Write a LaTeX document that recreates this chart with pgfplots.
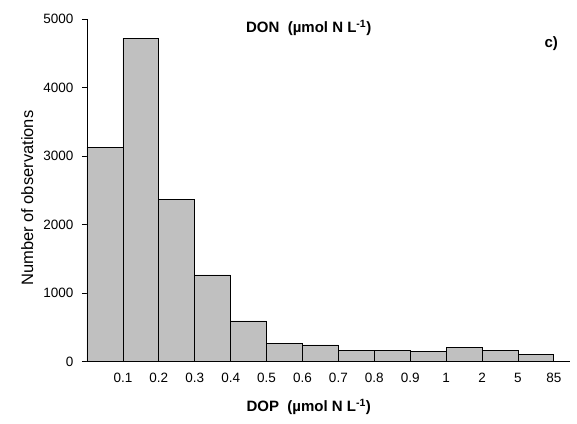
\documentclass[border=0pt]{standalone}
\usepackage{pgfplots}
\pgfplotsset{compat=1.18}
\usepackage{fontspec}
\setmainfont{Liberation Sans}
\definecolor{bargray}{HTML}{C0C0C0}
\begin{document}
\begin{tikzpicture}
\useasboundingbox (-87pt,-61.3pt) rectangle (490pt,361.7pt);
\begin{axis}[
  at={(0,0)}, anchor=south west,
  scale only axis,
  width=483pt, height=342.7pt,
  xmin=0, xmax=13.45,
  ymin=0, ymax=5000,
  axis x line*=bottom, axis y line*=left,
  axis line style={line width=0.7pt, black},
  ytick={0,1000,2000,3000,4000,5000},
  xtick={1,2,3,4,5,6,7,8,9,10,11,12,13},
  xticklabels={0.1,0.2,0.3,0.4,0.5,0.6,0.7,0.8,0.9,1,2,5,85},
  xtick style={draw=none},
  tick align=outside,
  major tick length=5pt,
  ytick style={line width=0.7pt, black},
  /pgf/number format/1000 sep={},
  /pgf/number format/assume math mode=true,
  tick label style={font=\fontsize{13.5}{15}\selectfont},
  xticklabel style={yshift=-3pt},
  yticklabel style={xshift=-5pt},
  clip=false,
]
\addplot[ybar, bar width=1, bar shift=0, fill=bargray, draw=black, line width=0.8pt]
  coordinates {
  (0.5,3130) (1.5,4720) (2.5,2365) (3.5,1265) (4.5,595) (5.5,265) (6.5,245)
  (7.5,160) (8.5,165) (9.5,155) (10.5,210) (11.5,170) (12.5,100)
  };
\node[font=\fontsize{15}{17}\bfseries\selectfont] at (rel axis cs:0.459,0.973) {DON\ \ (µmol N L\textsuperscript{-1})};
\node[font=\fontsize{15}{17}\bfseries\selectfont] at (rel axis cs:0.961,0.929) {c)};
\node[font=\fontsize{15}{17}\bfseries\selectfont, yshift=-45pt] at (rel axis cs:0.459,0) {DOP\ \ (µmol N L\textsuperscript{-1})};
\node[font=\fontsize{16.5}{18}\selectfont, rotate=90] at (rel axis cs:-0.124,0.477) {Number of observations};
\end{axis}
\end{tikzpicture}
\end{document}
